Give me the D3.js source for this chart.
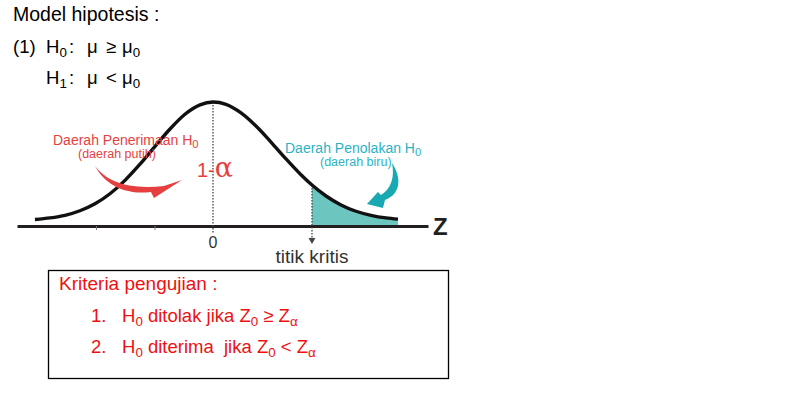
<!DOCTYPE html>
<html>
<head>
<meta charset="utf-8">
<script src="https://cdn.jsdelivr.net/npm/d3@7"></script>
<style>
html,body{margin:0;padding:0;background:#fff;}
svg{display:block;}
text{font-family:"Liberation Sans",Arial,sans-serif;}
</style>
</head>
<body>
<svg id="chart" width="791" height="393"></svg>
<script>
// ---- data ----
const curveZ = [-3.043,-2.786,-2.530,-2.274,-2.017,-1.761,-1.504,-1.248,-0.991,-0.735,-0.479,-0.222,0,0.222,0.479,0.735,0.991,1.248,1.504,1.692,1.932,2.188,2.444,2.701,2.957,3.162];
const curveH = [0.052,0.065,0.086,0.123,0.179,0.260,0.368,0.498,0.642,0.782,0.901,0.977,1.0,0.981,0.912,0.806,0.677,0.541,0.413,0.330,0.242,0.170,0.119,0.086,0.065,0.055];
const criticalZ = 1.692;
const tickValues = [-2, -1];
const centerLabel = "0";
const criticalLabel = "titik kritis";
const axisLabel = "Z";

const svg = d3.select("#chart");
const x = d3.scaleLinear().domain([-3.35, 3.675]).range([17, 428]);
const y = d3.scaleLinear().domain([0, 1]).range([226, 102]);

const pts = curveZ.map((z, i) => ({z, h: curveH[i]}));
const RED = "#e63f3f", TEAL = "#2bb3c4", DARK = "#231f20";

// shaded rejection region
const tail = pts.filter(p => p.z >= criticalZ);
svg.append("path")
  .datum(tail)
  .attr("d", d3.area().x(d => x(d.z)).y0(y(0)).y1(d => y(d.h)).curve(d3.curveMonotoneX))
  .attr("fill", "#6cc6bf");

// axis
const axisG = svg.append("g").attr("transform", `translate(0,${y(0)})`)
  .call(d3.axisBottom(x).tickValues(tickValues).tickFormat("").tickSize(4).tickSizeOuter(0));
axisG.select(".domain").attr("stroke", DARK).attr("stroke-width", 3);
axisG.selectAll(".tick line").attr("stroke", "#777").attr("stroke-width", 1);
axisG.selectAll(".tick text").remove();

// dotted lines
svg.append("line")
  .attr("x1", x(0)).attr("x2", x(0)).attr("y1", y(1)).attr("y2", y(0) + 8)
  .attr("stroke", "#444").attr("stroke-width", 1.3).attr("stroke-dasharray", "1.4,1.6");
const critH = curveH[curveZ.indexOf(criticalZ)];
svg.append("line")
  .attr("x1", x(criticalZ)).attr("x2", x(criticalZ)).attr("y1", y(critH)).attr("y2", y(0) + 13)
  .attr("stroke", "#444").attr("stroke-width", 1.3).attr("stroke-dasharray", "1.4,1.6");
svg.append("path")
  .attr("transform", `translate(${x(criticalZ)},${y(0) + 18})`)
  .attr("d", "M-3.5,-6 L3.5,-6 L0,0 Z").attr("fill", "#444");

// curve
svg.append("path")
  .datum(pts)
  .attr("d", d3.line().x(d => x(d.z)).y(d => y(d.h)).curve(d3.curveMonotoneX))
  .attr("fill", "none").attr("stroke", "#111").attr("stroke-width", 3.4);

// axis labels
svg.append("text").attr("x", x(0)).attr("y", y(0) + 22).attr("text-anchor", "middle")
  .attr("font-size", 16).attr("fill", "#333").text(centerLabel);
svg.append("text").attr("x", x(criticalZ)).attr("y", y(0) + 37).attr("text-anchor", "middle")
  .attr("font-size", 19).attr("fill", "#333").text(criticalLabel);
svg.append("text").attr("x", x.range()[1] + 5).attr("y", y(0) + 8.5)
  .attr("font-size", 24).attr("font-weight", "bold").attr("fill", DARK).text(axisLabel);

// red arrow (acceptance region)
const redTip = [x(-0.53), y(0.371)];
svg.append("path")
  .attr("transform", `translate(${redTip[0]},${redTip[1]})`)
  .attr("d", "M-87,-14 C-76,1 -54,10 -18,6 L0,0 L-28,18 L-31,12 C-56,15 -76,6 -87,-14 Z")
  .attr("fill", RED);

// teal arrow (rejection region)
const tealTip = [x(2.632), y(0.177)];
svg.append("path")
  .attr("transform", `translate(${tealTip[0]},${tealTip[1]})`)
  .attr("d", "M25,-41 C35,-26 34,-10 18,-4 L16,4 L0,0 L11,-12 L14,-9 C24,-15 28,-27 25,-41 Z")
  .attr("fill", "#19a9b3");

// helper for text with subscripts
function rich(parent, px, py, parts, size, color) {
  const t = parent.append("text").attr("x", px).attr("y", py)
    .attr("font-size", size).attr("fill", color);
  let low = 0;
  parts.forEach(p => {
    if (typeof p === "string") {
      const s = t.append("tspan").text(p);
      if (low) { s.attr("dy", -low); low = 0; }
    } else {
      const off = p.dy || size * 0.22;
      t.append("tspan").attr("dy", off).attr("font-size", size * (p.s || 0.72)).text(p.sub);
      low = off;
    }
  });
  return t;
}

// region labels
rich(svg, 53, 145, ["Daerah Penerimaan H", {sub: "0", s: 0.8}], 14, RED);
svg.append("text").attr("x", 78).attr("y", 158).attr("font-size", 12.5).attr("fill", RED).text("(daerah putih)");
rich(svg, 285, 153, ["Daerah Penolakan H", {sub: "0", s: 0.8}], 14, TEAL);
svg.append("text").attr("x", 320).attr("y", 166).attr("font-size", 12.5).attr("fill", TEAL).text("(daerah biru)");

// 1-alpha
const oneAlpha = svg.append("text").attr("x", 197).attr("y", 177).attr("fill", RED);
oneAlpha.append("tspan").attr("font-size", 20).text("1-");
oneAlpha.append("tspan").attr("font-size", 27).attr("font-family", "DejaVu Serif").text("\u03b1");

// top text
svg.append("text").attr("x", 13).attr("y", 21).attr("font-size", 19.5).attr("fill", "#000").text("Model hipotesis :");
const g2 = svg.append("g");
function put(px, py, parts) { return rich(g2, px, py, parts, 18.5, "#000"); }
put(13, 53, ["(1)"]);
put(46, 53, ["H", {sub: "0"}]);
put(69, 53, [":"]);
put(87, 53, ["\u03bc"]);
put(106, 53, ["\u2265"]);
put(122, 53, ["\u03bc", {sub: "0"}]);
put(46, 84, ["H", {sub: "1"}]);
put(69, 84, [":"]);
put(87, 84, ["\u03bc"]);
put(106, 84, ["<"]);
put(122, 84, ["\u03bc", {sub: "0"}]);

// criteria box
svg.append("rect").attr("x", 48.5).attr("y", 270.5).attr("width", 400).attr("height", 108)
  .attr("fill", "none").attr("stroke", "#000").attr("stroke-width", 1.3);
const BOXRED = "#ee1111";
svg.append("text").attr("x", 59).attr("y", 290).attr("font-size", 19).attr("fill", BOXRED).text("Kriteria pengujian :");
rich(svg, 91, 322, ["1."], 18.5, BOXRED);
rich(svg, 122, 322, ["H", {sub: "0"}, " ditolak jika Z", {sub: "0"}, " \u2265 Z", {sub: "\u03b1"}], 18.5, BOXRED);
rich(svg, 91, 353, ["2."], 18.5, BOXRED);
rich(svg, 122, 353, ["H", {sub: "0"}, " diterima \u00a0jika Z", {sub: "0"}, " < Z", {sub: "\u03b1"}], 18.5, BOXRED);
</script>
</body>
</html>
